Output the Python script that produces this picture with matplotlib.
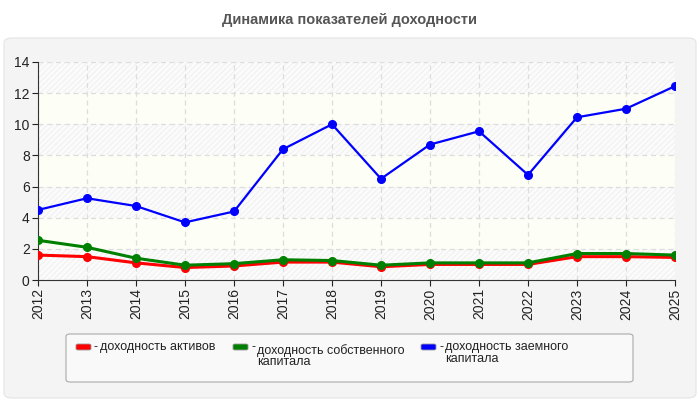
import matplotlib
matplotlib.use("Agg")
import matplotlib.pyplot as plt
from matplotlib.patches import FancyBboxPatch

plt.rcParams['font.family'] = ['Liberation Sans', 'DejaVu Sans']
plt.rcParams['hatch.linewidth'] = 0.5

# Data
years = list(range(2012, 2026))
assets = [1.6, 1.5, 1.1, 0.8, 0.9, 1.15, 1.15, 0.85, 1.0, 1.0, 1.0, 1.5, 1.5, 1.45]
equity = [2.55, 2.1, 1.4, 0.95, 1.05, 1.3, 1.25, 0.95, 1.1, 1.1, 1.1, 1.7, 1.7, 1.6]
borrowed = [4.5, 5.25, 4.75, 3.7, 4.4, 8.4, 10.0, 6.5, 8.7, 9.55, 6.75, 10.45, 11.0, 12.45]

labels = ['доходность активов',
          'доходность собственного\nкапитала',
          'доходность заемного\nкапитала']
colors = ['#ff0000', '#008000', '#0000ff']

fig = plt.figure(figsize=(7, 4), dpi=100)
fig.patch.set_facecolor('white')

# gray rounded panel behind the chart
panel = FancyBboxPatch((4 / 700, 2 / 400), 692 / 700, 360 / 400,
                       boxstyle="round,pad=0,rounding_size=0.012",
                       transform=fig.transFigure, facecolor='#f4f4f4',
                       edgecolor='#e4e4e4', linewidth=0.8, zorder=-10)
fig.patches.append(panel)

fig.text(0.5, 1 - 20 / 400, 'Динамика показателей доходности', ha='center', va='center',
         fontsize=10.5, fontweight='bold', color='#555555')

ax = fig.add_axes([38 / 700, 1 - 280 / 400, 637 / 700, 218 / 400])
ax.set_facecolor('#fdfff6')

# alternating bands: hatched / plain
for lo in range(0, 14, 2):
    if (lo // 2) % 2 == 0:
        ax.axhspan(lo, lo + 2, facecolor='#fbfbfb', edgecolor='#ececec',
                   hatch='//////', linewidth=0, zorder=0)

for vals, c in zip([assets, equity, borrowed], colors):
    lw = 1.6 if c == '#0000ff' else 2.2
    ax.plot(years, vals, color=c, linewidth=lw, marker='o', markersize=5.5, zorder=3)

ax.set_xlim(2012, 2025)
ax.set_ylim(0, 14)
ax.set_xticks(years)
ax.set_xticklabels([str(y) for y in years], rotation=90)
ax.set_yticks(range(0, 15, 2))
ax.grid(True, color='#dddddd', linestyle=(0, (4, 3)), linewidth=0.9)
ax.set_axisbelow(True)
ax.tick_params(labelsize=10, colors='#222222', length=4, width=0.8, pad=2)
for side in ['top', 'right']:
    ax.spines[side].set_visible(False)
for side in ['left', 'bottom']:
    ax.spines[side].set_color('#333333')

# legend box
leg = FancyBboxPatch((66 / 700, 1 - 382 / 400), 567 / 700, 48 / 400,
                     boxstyle="round,pad=0,rounding_size=0.006",
                     transform=fig.transFigure, facecolor='#f9f9f9',
                     edgecolor='#aaaaaa', linewidth=0.8, zorder=1)
fig.patches.append(leg)

swatch_x = [76, 233, 421]
text_top = [341, 344, 341]
for sx, ty, lab, c in zip(swatch_x, text_top, labels, colors):
    sw = FancyBboxPatch((sx / 700, 1 - 350 / 400), 15 / 700, 6 / 400,
                        boxstyle="round,pad=0,rounding_size=0.003",
                        transform=fig.transFigure, facecolor=c,
                        edgecolor='#999999', linewidth=0.6, zorder=2)
    fig.patches.append(sw)
    fig.text((sx + 18) / 700, 1 - 347 / 400, '-', ha='left', va='center',
             fontsize=9, color='#222222')
    fig.text((sx + 24) / 700, 1 - ty / 400, lab, ha='left', va='top',
             fontsize=9, color='#222222', linespacing=0.95)

fig.savefig('out.png', dpi=100)
